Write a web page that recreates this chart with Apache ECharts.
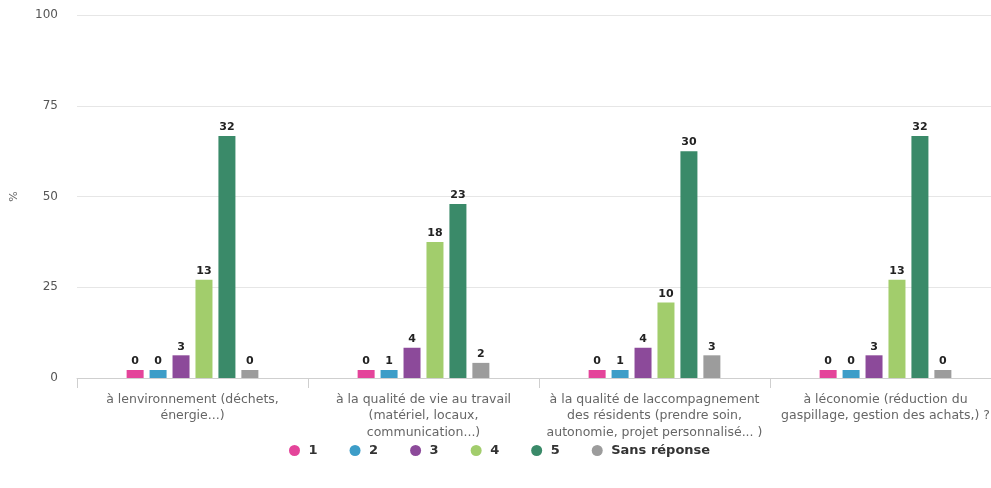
<!DOCTYPE html>
<html>
<head>
<meta charset="utf-8">
<script src="https://cdn.jsdelivr.net/npm/echarts@6/dist/echarts.min.js"></script>
<style>
html,body{margin:0;padding:0;background:#fff;overflow:hidden;}
#chart{width:1010px;height:488px;}
</style>
</head>
<body>
<div id="chart"></div>
<script>
const categories = [
  "à lenvironnement (déchets,\nénergie...)",
  "à la qualité de vie au travail\n(matériel, locaux,\ncommunication...)",
  "à la qualité de laccompagnement\ndes résidents (prendre soin,\nautonomie, projet personnalisé... )",
  "à léconomie (réduction du\ngaspillage, gestion des achats,) ?"
];
const seriesNames = ["1", "2", "3", "4", "5", "Sans réponse"];
const counts1 = [0, 0, 0, 0];
const counts2 = [0, 1, 1, 0];
const counts3 = [3, 4, 4, 3];
const counts4 = [13, 18, 10, 13];
const counts5 = [32, 23, 30, 32];
const countsNA = [0, 2, 3, 0];
const totalRespondents = 48;
const yTicks = [0, 25, 50, 75, 100];
const colors = ["#e4449a", "#3d9dc8", "#8c4a9a", "#a2cd6c", "#3a8a69", "#9c9c9c"];

const allCounts = [counts1, counts2, counts3, counts4, counts5, countsNA];
const FONT = 'DejaVu Sans, Verdana, sans-serif';

const chart = echarts.init(document.getElementById('chart'));
const series = allCounts.map((arr, i) => ({
  name: seriesNames[i],
  type: 'bar',
  data: arr.map(c => c / totalRespondents * 100),
  barWidth: 17,
  barGap: '35%',
  barMinHeight: 8,
  itemStyle: { color: colors[i] },
  label: {
    show: true,
    position: 'top',
    distance: 3,
    color: '#222',
    fontSize: 11,
    fontWeight: 'bold',
    fontFamily: FONT,
    formatter: p => String(arr[p.dataIndex])
  }
}));

chart.setOption({
  animation: false,
  color: colors,
  textStyle: { fontFamily: FONT },
  grid: { left: 77, right: 9, top: 15, bottom: 110, containLabel: false },
  legend: {
    data: seriesNames,
    top: 439,
    left: 284,
    icon: 'circle',
    itemWidth: 18,
    itemHeight: 11,
    itemGap: 32,
    textStyle: { color: '#333', fontSize: 13, fontWeight: 'bold', fontFamily: FONT }
  },
  xAxis: {
    type: 'category',
    data: categories,
    axisLine: { lineStyle: { color: '#cfcfcf' } },
    axisTick: { show: true, length: 10, lineStyle: { color: '#cfcfcf' } },
    axisLabel: { color: '#666', fontSize: 12.5, lineHeight: 16.5, margin: 13, interval: 0, fontFamily: FONT }
  },
  yAxis: {
    type: 'value',
    min: yTicks[0],
    max: yTicks[yTicks.length - 1],
    interval: 25,
    name: '%',
    nameLocation: 'middle',
    nameRotate: 90,
    nameGap: 57,
    nameTextStyle: { color: '#666', fontSize: 11, fontFamily: FONT },
    axisLine: { show: false },
    axisTick: { show: false },
    axisLabel: { color: '#555', fontSize: 12, margin: 19, fontFamily: FONT },
    splitLine: { lineStyle: { color: '#e6e6e6' } }
  },
  series: series
});
</script>
</body>
</html>
